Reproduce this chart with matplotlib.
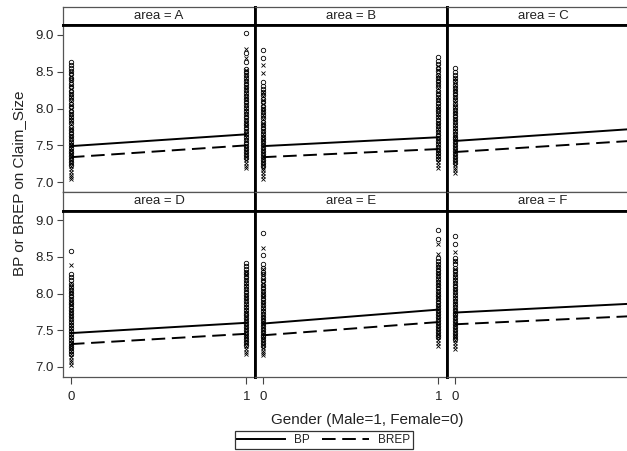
import matplotlib
matplotlib.use("Agg")
import matplotlib.pyplot as plt
from matplotlib.lines import Line2D

plt.rcParams["font.family"] = ["Liberation Sans", "DejaVu Sans"]

# ---- data ----
areas = ["A", "B", "C", "D", "E", "F"]
gender = [0, 1]

# fitted lines at gender 0 and gender 1
bp_fit_0 = [7.49, 7.49, 7.56, 7.46, 7.59, 7.74]
bp_fit_1 = [7.65, 7.61, 7.72, 7.60, 7.78, 7.86]
brep_fit_0 = [7.34, 7.34, 7.41, 7.31, 7.43, 7.58]
brep_fit_1 = [7.50, 7.45, 7.56, 7.45, 7.61, 7.69]

# observed BP (circles) and BREP (crosses), female = 0
bp_female = {
    "A": [8.63, 8.59, 8.55, 8.51, 8.47, 8.42, 8.38, 8.33, 8.29, 8.24, 8.20, 8.15, 8.11, 8.06, 8.02, 7.97, 7.93,
          7.88, 7.84, 7.80, 7.75, 7.71, 7.67, 7.63, 7.59, 7.55, 7.51, 7.47, 7.43, 7.39, 7.35, 7.31, 7.27, 7.23],
    "B": [8.79, 8.68, 8.36, 8.31, 8.27, 8.22, 8.18, 8.13, 8.09, 8.04, 8.00, 7.95, 7.91, 7.87, 7.82, 7.78, 7.74,
          7.70, 7.66, 7.62, 7.58, 7.54, 7.50, 7.46, 7.42, 7.38, 7.34, 7.30, 7.26, 7.22],
    "C": [8.55, 8.50, 8.46, 8.41, 8.37, 8.32, 8.28, 8.24, 8.19, 8.15, 8.11, 8.06, 8.02, 7.98, 7.94, 7.90, 7.86,
          7.82, 7.78, 7.74, 7.70, 7.66, 7.62, 7.58, 7.54, 7.50, 7.46, 7.42, 7.38, 7.34, 7.30, 7.26],
    "D": [8.58, 8.26, 8.22, 8.18, 8.13, 8.09, 8.05, 8.01, 7.97, 7.93, 7.89, 7.85, 7.81, 7.77, 7.73, 7.69, 7.65,
          7.61, 7.57, 7.53, 7.49, 7.45, 7.41, 7.37, 7.33, 7.29, 7.25, 7.21, 7.17],
    "E": [8.82, 8.53, 8.40, 8.35, 8.30, 8.26, 8.21, 8.17, 8.12, 8.08, 8.04, 8.00, 7.96, 7.92, 7.88, 7.84, 7.80,
          7.76, 7.72, 7.68, 7.64, 7.60, 7.56, 7.52, 7.48, 7.44, 7.40, 7.36, 7.32, 7.28],
    "F": [8.78, 8.67, 8.49, 8.44, 8.40, 8.35, 8.31, 8.27, 8.22, 8.18, 8.14, 8.10, 8.06, 8.02, 7.98, 7.94, 7.90,
          7.86, 7.82, 7.78, 7.74, 7.70, 7.66, 7.62, 7.58, 7.54, 7.50, 7.46, 7.42, 7.38],
}
brep_female = {
    "A": [8.50, 8.44, 8.38, 8.32, 8.27, 8.21, 8.16, 8.10, 8.05, 7.99, 7.94, 7.89, 7.84, 7.79, 7.74, 7.69, 7.64,
          7.60, 7.55, 7.51, 7.46, 7.42, 7.38, 7.34, 7.30, 7.26, 7.22, 7.18, 7.14, 7.10, 7.07, 7.04],
    "B": [8.59, 8.48, 8.22, 8.17, 8.11, 8.06, 8.01, 7.96, 7.91, 7.86, 7.81, 7.76, 7.71, 7.66, 7.62, 7.57, 7.53,
          7.48, 7.44, 7.40, 7.36, 7.32, 7.28, 7.24, 7.20, 7.16, 7.12, 7.09, 7.05],
    "C": [8.42, 8.37, 8.32, 8.27, 8.22, 8.17, 8.12, 8.07, 8.02, 7.97, 7.92, 7.87, 7.83, 7.78, 7.73, 7.69, 7.64,
          7.60, 7.56, 7.52, 7.48, 7.44, 7.40, 7.36, 7.32, 7.28, 7.24, 7.20, 7.16, 7.13],
    "D": [8.39, 8.14, 8.09, 8.04, 7.99, 7.94, 7.89, 7.84, 7.79, 7.75, 7.70, 7.66, 7.61, 7.57, 7.53, 7.49, 7.45,
          7.41, 7.37, 7.33, 7.29, 7.25, 7.21, 7.17, 7.13, 7.09, 7.06, 7.02],
    "E": [8.62, 8.34, 8.26, 8.20, 8.15, 8.10, 8.05, 8.00, 7.95, 7.90, 7.85, 7.80, 7.76, 7.71, 7.67, 7.62, 7.58,
          7.54, 7.50, 7.46, 7.42, 7.38, 7.34, 7.30, 7.26, 7.22, 7.19, 7.16],
    "F": [8.56, 8.45, 8.33, 8.28, 8.23, 8.18, 8.13, 8.08, 8.03, 7.98, 7.94, 7.89, 7.85, 7.80, 7.76, 7.72, 7.68,
          7.64, 7.60, 7.56, 7.52, 7.48, 7.44, 7.40, 7.36, 7.32, 7.28, 7.24],
}
# male = 1 (column C/F male points fall outside the cropped picture)
bp_male = {
    "A": [9.02, 8.75, 8.63, 8.54, 8.50, 8.45, 8.41, 8.37, 8.33, 8.29, 8.25, 8.21, 8.17, 8.13, 8.09, 8.05, 8.01,
          7.97, 7.93, 7.89, 7.85, 7.81, 7.77, 7.73, 7.69, 7.65, 7.61, 7.57, 7.53, 7.49, 7.45, 7.41, 7.37, 7.33],
    "B": [8.70, 8.65, 8.60, 8.55, 8.51, 8.46, 8.42, 8.37, 8.33, 8.29, 8.24, 8.20, 8.16, 8.12, 8.08, 8.04, 8.00,
          7.96, 7.92, 7.88, 7.84, 7.80, 7.76, 7.72, 7.68, 7.64, 7.60, 7.56, 7.52, 7.48, 7.44, 7.40, 7.36, 7.32],
    "C": [],
    "D": [8.42, 8.38, 8.34, 8.30, 8.26, 8.22, 8.18, 8.14, 8.10, 8.06, 8.02, 7.98, 7.94, 7.90, 7.86, 7.82, 7.78,
          7.74, 7.70, 7.66, 7.62, 7.58, 7.54, 7.50, 7.46, 7.42, 7.38, 7.34, 7.30],
    "E": [8.86, 8.75, 8.48, 8.44, 8.40, 8.36, 8.32, 8.28, 8.24, 8.20, 8.16, 8.12, 8.08, 8.04, 8.00, 7.96, 7.92,
          7.88, 7.84, 7.80, 7.76, 7.72, 7.68, 7.64, 7.60, 7.56, 7.52, 7.48, 7.44, 7.40],
    "F": [],
}
brep_male = {
    "A": [8.80, 8.69, 8.52, 8.47, 8.42, 8.36, 8.31, 8.26, 8.21, 8.16, 8.11, 8.06, 8.01, 7.96, 7.91, 7.86, 7.81,
          7.76, 7.71, 7.66, 7.61, 7.56, 7.51, 7.46, 7.42, 7.38, 7.34, 7.30, 7.26, 7.22, 7.19],
    "B": [8.58, 8.52, 8.46, 8.40, 8.34, 8.28, 8.22, 8.16, 8.10, 8.04, 7.99, 7.93, 7.88, 7.82, 7.77, 7.72, 7.67,
          7.62, 7.57, 7.52, 7.47, 7.43, 7.39, 7.35, 7.31, 7.27, 7.23, 7.19],
    "C": [],
    "D": [8.30, 8.25, 8.20, 8.15, 8.10, 8.05, 8.00, 7.95, 7.91, 7.86, 7.82, 7.77, 7.73, 7.68, 7.64, 7.60, 7.56,
          7.52, 7.48, 7.44, 7.40, 7.36, 7.32, 7.28, 7.24, 7.20, 7.17],
    "E": [8.67, 8.54, 8.40, 8.35, 8.30, 8.25, 8.20, 8.15, 8.10, 8.05, 8.00, 7.95, 7.91, 7.86, 7.82, 7.77, 7.73,
          7.69, 7.65, 7.61, 7.57, 7.53, 7.49, 7.45, 7.41, 7.37, 7.33, 7.29],
    "F": [],
}

y_ticks = [7.0, 7.5, 8.0, 8.5, 9.0]
x_ticks = [0, 1]

# ---- layout (pixels) ----
W, H = 627, 451
col_left = [63, 255, 447]
col_width = 192
strip_top = [6.5, 192]
strip_h = 18.5
plot_h = [167, 166]

GREY = "#555555"
DASH = (7, 3.4)


def box(left, top, width, height):
    return [left / W, 1 - (top + height) / H, width / W, height / H]


fig = plt.figure(figsize=(W / 100, H / 100), dpi=100)

for i, area in enumerate(areas):
    row, col = divmod(i, 3)
    left = col_left[col]
    top = strip_top[row]

    strip = fig.add_axes(box(left, top, col_width, strip_h))
    ax = fig.add_axes(box(left, top + strip_h, col_width, plot_h[row]))

    strip.set_xticks([])
    strip.set_yticks([])
    strip.text(0.5, 0.5, f"area = {area}", ha="center", va="center", fontsize=9.5, color="#222222",
               transform=strip.transAxes)

    for a in (strip, ax):
        for s in a.spines.values():
            s.set_color(GREY)
            s.set_linewidth(0.9)
        if col < 2:
            a.spines["right"].set_color("black")
            a.spines["right"].set_linewidth(2.0)
        if col > 0:
            a.spines["left"].set_color("black")
            a.spines["left"].set_linewidth(2.0)
    strip.spines["bottom"].set_color("black")
    strip.spines["bottom"].set_linewidth(2.0)
    ax.spines["top"].set_color("black")
    ax.spines["top"].set_linewidth(2.0)

    # observations
    ax.plot([0] * len(brep_female[area]), brep_female[area], "x", color="black", ms=3.2, mew=0.6, ls="none")
    ax.plot([1] * len(brep_male[area]), brep_male[area], "x", color="black", ms=3.2, mew=0.6, ls="none")
    ax.plot([0] * len(bp_female[area]), bp_female[area], "o", mfc="none", mec="black", ms=3.2, mew=0.6, ls="none")
    ax.plot([1] * len(bp_male[area]), bp_male[area], "o", mfc="none", mec="black", ms=3.2, mew=0.6, ls="none")

    # fitted lines
    ax.plot(gender, [bp_fit_0[i], bp_fit_1[i]], color="black", lw=1.4)
    ax.plot(gender, [brep_fit_0[i], brep_fit_1[i]], color="black", lw=1.4, dashes=DASH)

    ax.set_xlim(-0.045, 1.05)
    ax.set_ylim(6.868, 9.132)

    ax.tick_params(axis="both", direction="out", color="#444444", width=0.8, labelsize=9.5,
                   labelcolor="#222222")
    ax.tick_params(axis="y", length=4.5, pad=2.5)
    ax.tick_params(axis="x", length=5, pad=5.5)
    if col == 0:
        ax.set_yticks(y_ticks)
        ax.set_yticklabels([f"{v:.1f}" for v in y_ticks])
    else:
        ax.set_yticks([])
    if row == 1:
        # the last column is cropped by the picture edge, so only its 0 tick shows
        shown = x_ticks if col < 2 else x_ticks[:1]
        ax.set_xticks(shown)
        ax.set_xticklabels([str(v) for v in shown])
    else:
        ax.set_xticks([])

fig.text(19 / W, 1 - 183.5 / H, "BP or BREP on Claim_Size", rotation=90, ha="center", va="center",
         fontsize=11, color="#222222")
fig.text(367 / W, 1 - 420 / H, "Gender (Male=1, Female=0)", ha="center", va="center",
         fontsize=11, color="#222222")

handles = [
    Line2D([], [], color="black", lw=1.4),
    Line2D([], [], color="black", lw=1.4, dashes=DASH),
]
leg = fig.legend(handles, ["BP", "BREP"], loc="center", bbox_to_anchor=(324 / W, 1 - 440 / H), ncol=2,
                 fontsize=8.5, frameon=True, fancybox=False, handlelength=4, handletextpad=0.8,
                 columnspacing=1.0, borderpad=0.25, borderaxespad=0)
leg.get_frame().set_edgecolor("black")
leg.get_frame().set_linewidth(0.9)
for t in leg.get_texts():
    t.set_color("#222222")

fig.savefig("out.png", dpi=100)
